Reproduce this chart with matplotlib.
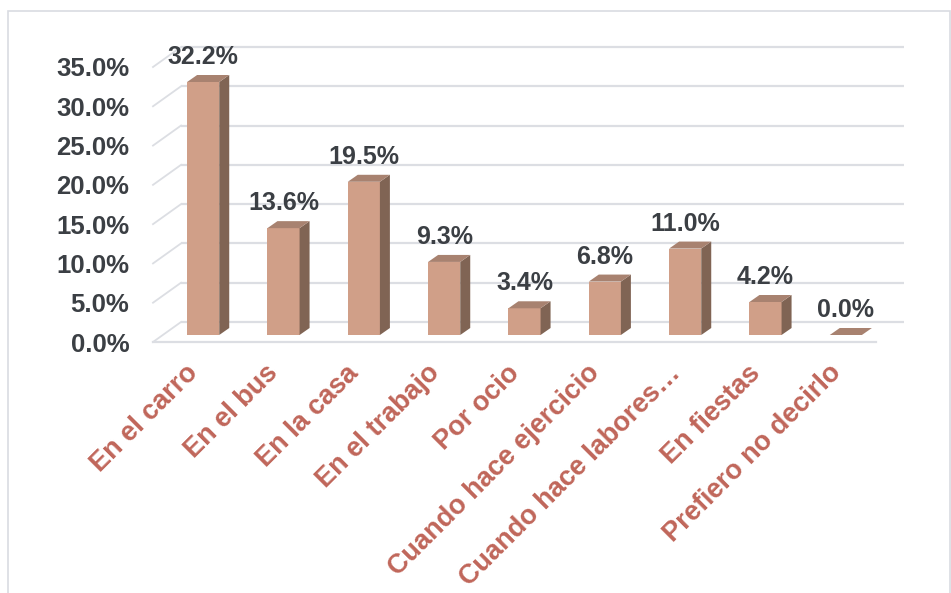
import numpy as np
import matplotlib
matplotlib.use('Agg')
import matplotlib.pyplot as plt
from matplotlib.patches import Polygon, Rectangle
from matplotlib.transforms import offset_copy

# ── datos ──────────────────────────────────────────────
categorias = ['En el carro', 'En el bus', 'En la casa', 'En el trabajo',
              'Por ocio', 'Cuando hace ejercicio', 'Cuando hace labores…',
              'En fiestas', 'Prefiero no decirlo']
porcentajes = [32.2, 13.6, 19.5, 9.3, 3.4, 6.8, 11.0, 4.2, 0.0]
ticks_y = [0, 5, 10, 15, 20, 25, 30, 35]

# ── estilo ─────────────────────────────────────────────
FRENTE = '#d09f88'; LADO = '#806454'; TAPA = '#a88270'
GRID = '#dcdee3'; TXT = '#3b3f44'; CAT = '#c0665a'
plt.rcParams['font.family'] = ['Liberation Sans', 'DejaVu Sans']

W, H = 951, 593
fig = plt.figure(figsize=(W / 100, H / 100), dpi=100)
ax = fig.add_axes([153 / W, 251 / H, 723 / W, 275 / H])
ax.set_xlim(-0.5, len(categorias) - 0.5)
ax.set_ylim(0, 35)
for sp in ax.spines.values():
    sp.set_visible(False)

# pixeles -> unidades de datos (para la profundidad 3D)
p0, p1 = ax.transData.transform([(0, 0), (1, 1)])
ppx, ppy = p1 - p0
def prof(dx, dy):
    return dx / ppx, dy / ppy

# pared del fondo y pared lateral
wx, wy = prof(28, 20)
x0, x1 = ax.get_xlim()
for y in ticks_y:
    ax.plot([x0 + wx, x1 + wx], [y + wy, y + wy], color=GRID, lw=1.6,
            zorder=1, clip_on=False, solid_capstyle='butt')
    ax.plot([x0, x0 + wx], [y, y + wy], color=GRID, lw=1.3,
            zorder=1, clip_on=False)
ax.plot([x0, x1], [0, 0], color=GRID, lw=1.6, zorder=1, clip_on=False)

# barras con caras frontal, lateral y superior
ancho = 0.4
fx, fy = prof(10, 7)      # desplazamiento de la cara frontal
bx, by = prof(10, 7)      # fondo de la barra
x = np.arange(len(categorias))
for xi, v in zip(x, porcentajes):
    l, r = xi - ancho / 2 + fx, xi + ancho / 2 + fx
    b, t = fy, v + fy
    if v > 0:
        ax.add_patch(Rectangle((l, b), ancho, v, facecolor=FRENTE,
                               edgecolor='none', zorder=3, clip_on=False))
        ax.add_patch(Polygon([(r, b), (r + bx, b + by), (r + bx, t + by), (r, t)],
                             facecolor=LADO, edgecolor='none', zorder=3, clip_on=False))
    ax.add_patch(Polygon([(l, t), (r, t), (r + bx, t + by), (l + bx, t + by)],
                         facecolor=TAPA, edgecolor='none', zorder=3, clip_on=False))

# etiquetas de valor
tr_val = offset_copy(ax.transData, fig=fig, x=10, y=32, units='dots')
for xi, v in zip(x, porcentajes):
    ax.text(xi, v, f'{v:.1f}%', transform=tr_val, ha='center', va='center',
            fontsize=18, fontweight='bold', color=TXT, zorder=5)

# eje y
ax.set_yticks(ticks_y, [f'{t:.1f}%' for t in ticks_y])
ax.tick_params(axis='y', length=0, pad=17, labelsize=18.5, labelcolor=TXT)
for lab in ax.get_yticklabels():
    lab.set_fontweight('bold')

# categorias rotadas
ax.set_xticks([])
tr_cat = offset_copy(ax.transData, fig=fig, x=6, y=-32, units='dots')
for xi, c in zip(x, categorias):
    ax.text(xi, 0, c, transform=tr_cat, rotation=45, rotation_mode='anchor',
            ha='right', va='baseline', fontsize=19.5, fontweight='bold',
            color=CAT, clip_on=False)

# marco exterior
fig.add_artist(Rectangle((8 / W, -0.05), 942 / W, 1.05 - 11 / H,
                         transform=fig.transFigure, fill=False,
                         edgecolor='#d9dce2', lw=1.2))

fig.savefig('out.png', dpi=100)
